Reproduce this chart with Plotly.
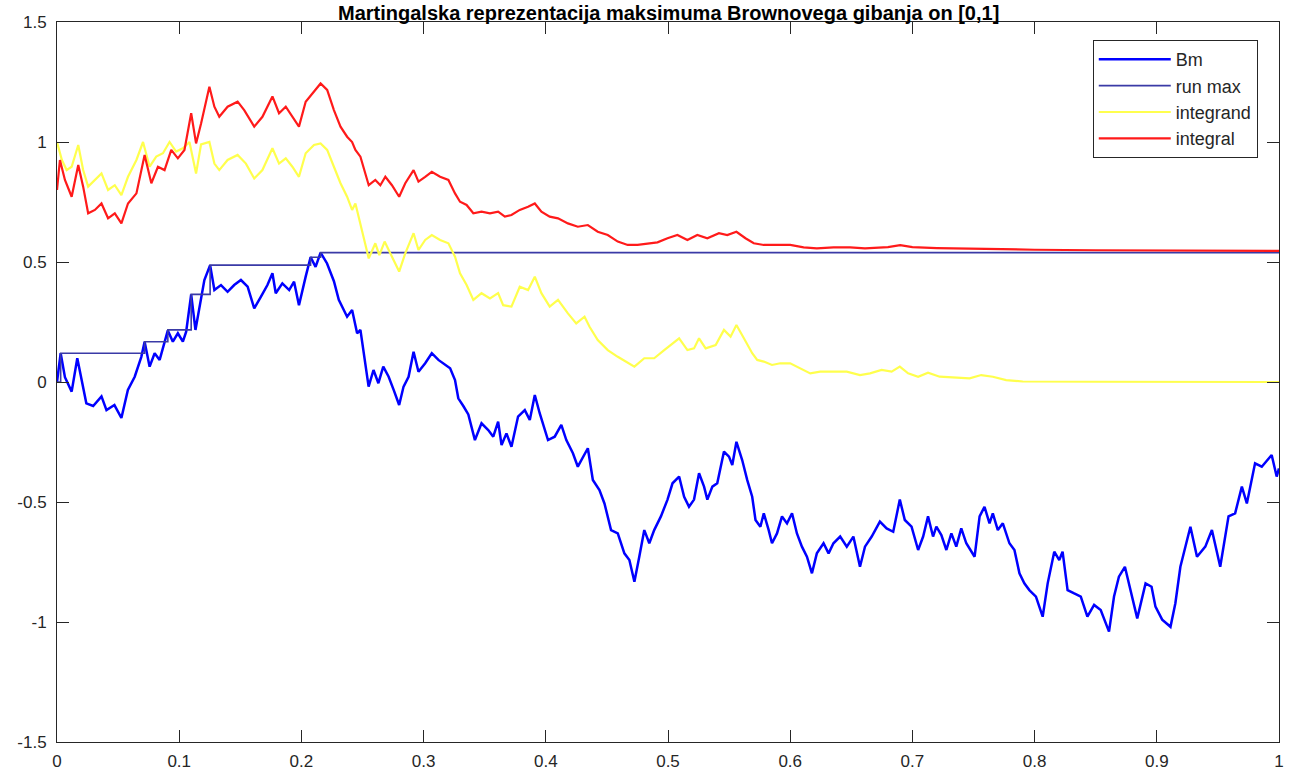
import plotly.graph_objects as go

# Brownian path on [0, 1]
bm_t = [0, 0.003, 0.0065, 0.012, 0.0166, 0.020, 0.024, 0.0296, 0.0364, 0.0405,
        0.047, 0.0527, 0.058, 0.0636, 0.069, 0.0717, 0.0758, 0.0799, 0.084, 0.0907,
        0.0948, 0.0989, 0.103, 0.1057, 0.1098, 0.1133, 0.1165, 0.1206, 0.1253, 0.1288,
        0.1342, 0.1396, 0.145, 0.1505, 0.156, 0.1614, 0.1668, 0.1722, 0.1763, 0.179,
        0.1844, 0.19, 0.194, 0.198, 0.2035, 0.2075, 0.2116, 0.2157, 0.221, 0.2266,
        0.2306, 0.2374, 0.2415, 0.2456, 0.2483, 0.2524, 0.255, 0.259, 0.263, 0.267,
        0.2714, 0.2755, 0.28, 0.2836, 0.2877, 0.2918, 0.2958, 0.3013, 0.3067, 0.3121,
        0.3162, 0.3217, 0.3257, 0.3284, 0.3325, 0.3366, 0.342, 0.3474, 0.3529, 0.357,
        0.361, 0.3638, 0.3678, 0.3719, 0.3773, 0.3828, 0.3869, 0.391, 0.395, 0.4018,
        0.4073, 0.4127, 0.4168, 0.4222, 0.4262, 0.4303, 0.4344, 0.4385, 0.4439, 0.448,
        0.4534, 0.4589, 0.4643, 0.4684, 0.4725, 0.4765, 0.4806, 0.4847, 0.4887, 0.4942,
        0.4996, 0.5037, 0.5091, 0.5132, 0.5172, 0.5213, 0.5254, 0.5295, 0.5322, 0.5363,
        0.5403, 0.5458, 0.5499, 0.5526, 0.556, 0.5607, 0.5648, 0.5689, 0.5716, 0.5756,
        0.5784, 0.5824, 0.5851, 0.5892, 0.5933, 0.5974, 0.6015, 0.6055, 0.6096, 0.6137,
        0.6178, 0.6218, 0.6273, 0.6314, 0.6354, 0.6409, 0.6463, 0.6517, 0.6571, 0.6612,
        0.6667, 0.6734, 0.6789, 0.6843, 0.6897, 0.6938, 0.6993, 0.7047, 0.7088, 0.7128,
        0.7169, 0.7196, 0.7237, 0.7278, 0.7319, 0.7359, 0.74, 0.7441, 0.7509, 0.755,
        0.759, 0.7631, 0.7658, 0.7699, 0.774, 0.7794, 0.7835, 0.7876, 0.7916, 0.7957,
        0.8011, 0.8066, 0.8107, 0.8161, 0.8202, 0.8229, 0.827, 0.8324, 0.8378, 0.8432,
        0.8487, 0.8541, 0.8609, 0.865, 0.869, 0.8739, 0.8786, 0.884, 0.8908, 0.8957,
        0.8989, 0.9044, 0.9112, 0.9152, 0.9193, 0.9275, 0.9329, 0.9397, 0.9451, 0.9519,
        0.9587, 0.9641, 0.9696, 0.9737, 0.9804, 0.9859, 0.994, 0.9981, 1.0]
bm_v = [0, 0.12, 0.02, -0.04, 0.099, 0.008, -0.089, -0.10, -0.06, -0.117,
        -0.096, -0.15, -0.033, 0.022, 0.105, 0.168, 0.064, 0.12, 0.092, 0.215,
        0.168, 0.203, 0.168, 0.21, 0.365, 0.217, 0.314, 0.425, 0.487, 0.383,
        0.404, 0.376, 0.404, 0.425, 0.397, 0.307, 0.355, 0.404, 0.453, 0.37,
        0.411, 0.383, 0.418, 0.32, 0.439, 0.52, 0.48, 0.539, 0.494, 0.42,
        0.342, 0.272, 0.30, 0.203, 0.217, 0.078, -0.019, 0.05, -0.005, 0.064,
        0.022, -0.033, -0.096, -0.019, 0.022, 0.126, 0.043, 0.078, 0.12, 0.092,
        0.078, 0.057, 0.008, -0.068, -0.10, -0.135, -0.242, -0.172, -0.2, -0.228,
        -0.165, -0.2625, -0.214, -0.27, -0.144, -0.117, -0.158, -0.054, -0.13, -0.242,
        -0.228, -0.179, -0.242, -0.297, -0.353, -0.311, -0.276, -0.408, -0.45, -0.506,
        -0.617, -0.631, -0.714, -0.742, -0.832, -0.728, -0.617, -0.672, -0.617, -0.56,
        -0.49, -0.422, -0.394, -0.478, -0.52, -0.49, -0.38, -0.436, -0.49, -0.436,
        -0.422, -0.29, -0.311, -0.346, -0.249, -0.325, -0.408, -0.478, -0.575, -0.603,
        -0.547, -0.617, -0.672, -0.631, -0.56, -0.589, -0.547, -0.631, -0.686, -0.728,
        -0.797, -0.714, -0.672, -0.714, -0.672, -0.644, -0.686, -0.644, -0.77, -0.686,
        -0.644, -0.582, -0.61, -0.624, -0.49, -0.575, -0.603, -0.70, -0.644, -0.56,
        -0.644, -0.603, -0.6375, -0.70, -0.631, -0.686, -0.61, -0.672, -0.728, -0.56,
        -0.52, -0.589, -0.547, -0.617, -0.589, -0.672, -0.70, -0.797, -0.839, -0.867,
        -0.894, -0.978, -0.839, -0.707, -0.742, -0.707, -0.867, -0.881, -0.894, -0.978,
        -0.929, -0.95, -1.04, -0.894, -0.811, -0.77, -0.867, -0.985, -0.839, -0.853,
        -0.936, -0.99, -1.02, -0.922, -0.77, -0.603, -0.728, -0.686, -0.617, -0.77,
        -0.56, -0.547, -0.436, -0.506, -0.339, -0.353, -0.304, -0.394, -0.36]

# Running maximum: times where a new maximum is reached and its level
max_t = [0, 0.003, 0.0717, 0.0907, 0.1098, 0.1253, 0.2075, 0.2157, 1.0]
max_v = [0, 0.12, 0.168, 0.217, 0.365, 0.487, 0.52, 0.539, 0.539]

# Integrand of the martingale representation
ig_t = [0, 0.004, 0.0079, 0.012, 0.0174, 0.0214, 0.0255, 0.031, 0.0364, 0.0418,
        0.0473, 0.0527, 0.0581, 0.065, 0.0704, 0.0758, 0.0812, 0.0867, 0.0921, 0.0975,
        0.103, 0.1084, 0.1138, 0.1179, 0.1247, 0.1288, 0.1328, 0.1396, 0.1478, 0.1546,
        0.1614, 0.1681, 0.1763, 0.1817, 0.1872, 0.1926, 0.198, 0.2035, 0.2103, 0.2157,
        0.2211, 0.2266, 0.232, 0.2374, 0.2415, 0.2442, 0.2483, 0.2524, 0.2551, 0.2605,
        0.2638, 0.2681, 0.2741, 0.28, 0.285, 0.2918, 0.2958, 0.3013, 0.3067, 0.3135,
        0.3203, 0.3257, 0.3298, 0.3352, 0.3407, 0.3474, 0.3543, 0.361, 0.3651, 0.3719,
        0.3787, 0.3855, 0.391, 0.3964, 0.4032, 0.41, 0.4181, 0.4249, 0.4317, 0.4358,
        0.4425, 0.4507, 0.4589, 0.4656, 0.4725, 0.4806, 0.4887, 0.4969, 0.5091, 0.5159,
        0.5213, 0.5254, 0.5308, 0.539, 0.5458, 0.5512, 0.556, 0.5621, 0.5689, 0.573,
        0.5784, 0.5851, 0.5919, 0.6, 0.6082, 0.6164, 0.6245, 0.6354, 0.6463, 0.6571,
        0.6653, 0.6748, 0.683, 0.6897, 0.6965, 0.7047, 0.7128, 0.7223, 0.7359, 0.7468,
        0.7563, 0.7658, 0.7767, 0.7903, 0.85, 1.0]
ig_v = [1.0, 0.925, 0.883, 0.897, 0.9875, 0.883, 0.814, 0.842, 0.869, 0.80,
        0.82, 0.779, 0.855, 0.925, 1.0, 0.897, 0.939, 0.953, 1.0, 0.96,
        0.974, 1.0, 0.869, 0.99, 1.0, 0.91, 0.883, 0.925, 0.946, 0.91,
        0.848, 0.883, 0.974, 0.91, 0.932, 0.897, 0.855, 0.953, 0.9875, 0.994,
        0.967, 0.897, 0.828, 0.772, 0.717, 0.744, 0.661, 0.578, 0.515, 0.578,
        0.529, 0.585, 0.522, 0.46, 0.536, 0.62, 0.55, 0.592, 0.6125, 0.592,
        0.578, 0.522, 0.453, 0.404, 0.342, 0.37, 0.348, 0.37, 0.32, 0.314,
        0.397, 0.383, 0.439, 0.37, 0.314, 0.342, 0.286, 0.244, 0.272, 0.23,
        0.175, 0.133, 0.105, 0.085, 0.064, 0.099, 0.099, 0.133, 0.182, 0.133,
        0.14, 0.182, 0.14, 0.154, 0.217, 0.189, 0.2375, 0.182, 0.12, 0.092,
        0.085, 0.071, 0.078, 0.078, 0.057, 0.036, 0.043, 0.043, 0.043, 0.029,
        0.036, 0.05, 0.043, 0.064, 0.036, 0.022, 0.039, 0.022, 0.019, 0.015,
        0.029, 0.022, 0.008, 0.002, 0.001, 0.0]

# Stochastic integral (conditional expectation of the maximum)
it_t = [0, 0.0024, 0.0065, 0.012, 0.0174, 0.0214, 0.0255, 0.031, 0.0364, 0.0418,
        0.0473, 0.0527, 0.0581, 0.065, 0.0717, 0.0772, 0.0826, 0.088, 0.0935, 0.0989,
        0.1043, 0.1098, 0.1138, 0.1179, 0.1247, 0.1288, 0.1328, 0.1396, 0.1478, 0.1532,
        0.1614, 0.1681, 0.1763, 0.1817, 0.1872, 0.1926, 0.198, 0.2035, 0.2103, 0.2157,
        0.2211, 0.2266, 0.232, 0.2374, 0.2415, 0.2442, 0.2483, 0.2524, 0.2551, 0.2605,
        0.2646, 0.2687, 0.2741, 0.28, 0.285, 0.2918, 0.2958, 0.3013, 0.3067, 0.3135,
        0.3203, 0.3257, 0.3298, 0.3352, 0.3407, 0.3474, 0.3543, 0.361, 0.3665, 0.3719,
        0.3787, 0.3855, 0.391, 0.3964, 0.4032, 0.41, 0.4181, 0.4262, 0.4344, 0.4425,
        0.4507, 0.4589, 0.467, 0.4751, 0.4833, 0.4914, 0.4996, 0.5077, 0.5159, 0.524,
        0.5322, 0.5417, 0.5485, 0.556, 0.5634, 0.5702, 0.5784, 0.5892, 0.6, 0.611,
        0.6218, 0.6354, 0.649, 0.6612, 0.68, 0.69, 0.70, 0.72, 0.75, 0.76,
        0.80, 0.85, 0.90, 1.0]
it_v = [0.80, 0.925, 0.842, 0.772, 0.904, 0.814, 0.703, 0.717, 0.744, 0.682,
        0.703, 0.661, 0.744, 0.786, 0.946, 0.828, 0.897, 0.883, 0.967, 0.932,
        0.967, 1.12, 0.994, 1.077, 1.23, 1.147, 1.105, 1.147, 1.168, 1.133,
        1.064, 1.105, 1.19, 1.12, 1.147, 1.105, 1.064, 1.168, 1.21, 1.244,
        1.217, 1.133, 1.064, 1.022, 1.0, 0.967, 0.939, 0.869, 0.82, 0.842,
        0.82, 0.855, 0.82, 0.772, 0.828, 0.883, 0.835, 0.855, 0.876, 0.855,
        0.842, 0.786, 0.751, 0.7375, 0.703, 0.71, 0.703, 0.71, 0.689, 0.696,
        0.717, 0.73, 0.744, 0.71, 0.689, 0.682, 0.661, 0.647, 0.654, 0.626,
        0.6125, 0.585, 0.571, 0.571, 0.578, 0.582, 0.599, 0.6125, 0.592, 0.6125,
        0.599, 0.62, 0.6125, 0.626, 0.599, 0.578, 0.571, 0.571, 0.571, 0.561,
        0.557, 0.561, 0.561, 0.557, 0.562, 0.57, 0.562, 0.558, 0.555, 0.557,
        0.551, 0.549, 0.548, 0.546]

assert len(bm_t) == len(bm_v)
assert len(ig_t) == len(ig_v)
assert len(it_t) == len(it_v)

x_ticks = [0, 0.1, 0.2, 0.3, 0.4, 0.5, 0.6, 0.7, 0.8, 0.9, 1]
x_labels = ["0", "0.1", "0.2", "0.3", "0.4", "0.5", "0.6", "0.7", "0.8", "0.9", "1"]
y_ticks = [-1.5, -1, -0.5, 0, 0.5, 1, 1.5]
y_labels = ["-1.5", "-1", "-0.5", "0", "0.5", "1", "1.5"]

title_text = "Martingalska reprezentacija maksimuma Brownovega gibanja on [0,1]"

fig = go.Figure()
fig.add_trace(go.Scatter(x=bm_t, y=bm_v, mode="lines", name="Bm",
                         line=dict(color="#0000ff", width=2.5)))
fig.add_trace(go.Scatter(x=max_t, y=max_v, mode="lines", name="run max",
                         line=dict(color="#3a3aa6", width=1.6, shape="hv")))
fig.add_trace(go.Scatter(x=ig_t, y=ig_v, mode="lines", name="integrand",
                         line=dict(color="#ffff4d", width=2.2)))
fig.add_trace(go.Scatter(x=it_t, y=it_v, mode="lines", name="integral",
                         line=dict(color="#ff1a1a", width=2.2)))

font_family = "Liberation Sans, Arial, sans-serif"
axis_font = dict(family=font_family, size=17, color="#262626")

fig.update_layout(
    width=1293, height=782,
    margin=dict(l=57, r=9, t=22, b=40),
    paper_bgcolor="white", plot_bgcolor="white",
    showlegend=True,
    legend=dict(x=0.8476, y=0.975, xanchor="left", yanchor="top",
                bgcolor="white", bordercolor="#262626", borderwidth=1,
                font=dict(family=font_family, size=18, color="#262626"),
                tracegroupgap=0, itemwidth=72),
    xaxis=dict(range=[0, 1], tickvals=x_ticks, ticktext=x_labels,
               showgrid=False, zeroline=False, showline=True, linecolor="#262626",
               linewidth=1, mirror="ticks", ticks="inside", ticklen=12,
               tickcolor="#262626", tickfont=axis_font, ticklabelstandoff=4),
    yaxis=dict(range=[-1.5, 1.5], tickvals=y_ticks, ticktext=y_labels,
               showgrid=False, zeroline=False, showline=True, linecolor="#262626",
               linewidth=1, mirror="ticks", ticks="inside", ticklen=12,
               tickcolor="#262626", tickfont=axis_font, ticklabelstandoff=6),
    annotations=[dict(text="<b>" + title_text + "</b>", xref="paper", yref="paper",
                      x=0.5, y=(742 - 13) / 720, xanchor="center", yanchor="middle",
                      showarrow=False,
                      font=dict(family=font_family, size=20, color="#000000"))],
)

fig.write_html("out.html")
